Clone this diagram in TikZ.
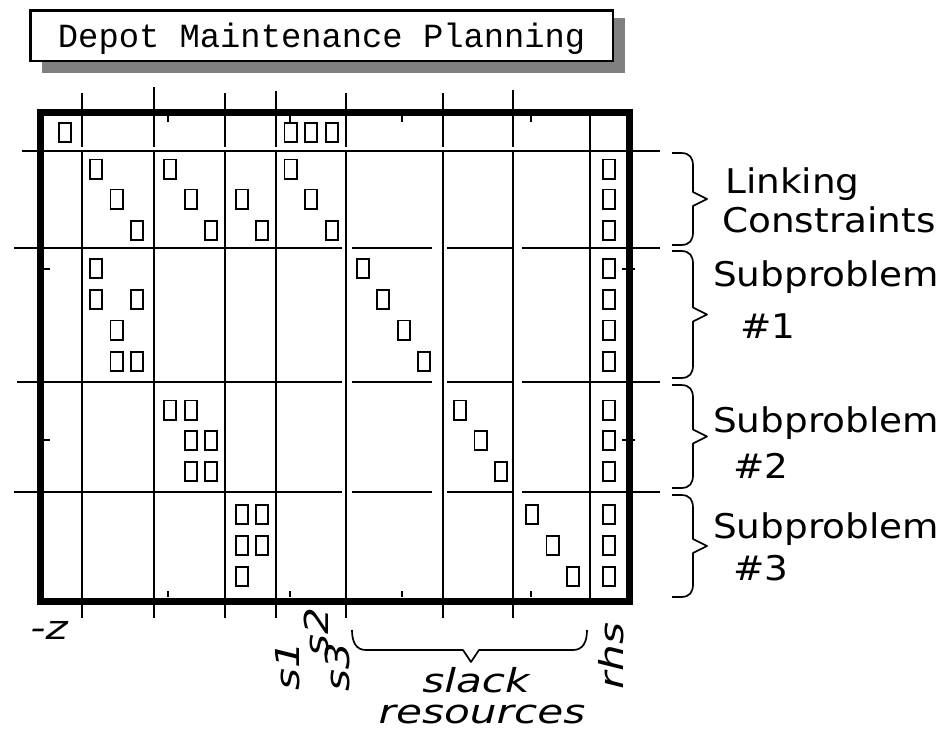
\documentclass[tikz,border=0pt]{standalone}
\usepackage{fontspec}
\newfontfamily\titlefont{Liberation Mono}
\newfontfamily\labelfont{DejaVu Sans}

% right-hand curly brace: #1 = top end, #2 = bottom end
\newcommand\sidecurly[2]{%
  \draw[curlybrace] (672,#1) -- (681,#1)
    .. controls (690,#1) and (693,{#1+5}) .. (693,{#1+13})
    -- (693,{(#1+#2)/2-7}) -- (707,{(#1+#2)/2}) -- (693,{(#1+#2)/2+7})
    -- (693,{#2-13})
    .. controls (693,{#2-5}) and (690,#2) .. (681,#2) -- (672,#2);}

\begin{document}
\begin{tikzpicture}[x=1pt,y=-1pt,
  framebox/.style={line width=7pt},
  gridline/.style={line width=2.2pt},
  cellbox/.style={draw, line width=1.7pt, minimum width=12.3pt, minimum height=19.3pt, inner sep=0pt},
  curlybrace/.style={line width=1.7pt, line join=round},
  sidelabel/.style={font=\labelfont\fontsize{34}{40}\selectfont, xscale=1.1, anchor=base west, inner sep=0pt},
  hlabel/.style={font=\labelfont\itshape\fontsize{33}{40}\selectfont, xscale=1.28, inner sep=0pt},
  vlabel/.style={font=\labelfont\itshape\fontsize{33}{40}\selectfont, rotate=90, xscale=1.28, inner sep=0pt},
]
\useasboundingbox (0,0) rectangle (950,732);

% title with drop shadow
\fill[black!50] (42,18) rectangle (625,73);
\node[draw, line width=2.3pt, fill=white, minimum width=582.3pt, minimum height=50.8pt,
      inner sep=0pt, text height=24pt, text depth=0pt,
      font=\titlefont\fontsize{33.8}{40}\selectfont] (title) at (321.65,35.9) {Depot Maintenance Planning};

% column rules with their ticks above and below the frame
\foreach \x/\t in {82/93,154/87,225/93,276/91,346/93,443/93,513/90} {
  \draw[gridline] (\x,\t) -- (\x,147);
  \draw[gridline] (\x,151) -- (\x,618);
}
\draw[gridline] (590,112) -- (590,601);

% row rules
\draw[gridline] (22,151) -- (660,151);
\foreach \y/\l in {248/14,382/17,492/14} {
  \draw[gridline] (\l,\y) -- (342,\y) (352,\y) -- (432,\y) (447,\y) -- (512,\y) (522,\y) -- (660,\y);
}

% small ticks along the inside of the frame
\foreach \x in {168,290,402,531} {
  \draw[gridline] (\x,116) -- (\x,122);
  \draw[gridline] (\x,591) -- (\x,597);
}
\foreach \y in {269,440} {
  \draw[gridline] (44,\y) -- (50,\y);
  \draw[gridline] (622,\y) -- (635,\y);
}

% outer frame
\draw[framebox] (40.5,112.7) rectangle (629.5,601);

% nonzero entries
\foreach \x/\y [count=\i] in {
  65/132.5, 290.5/132.5, 311/132.5, 332/132.5,
  96/169, 116.5/199, 137/230.5,
  170/169, 191/199, 211/230.5,
  242/199, 262/230.5,
  290.5/169, 311/199, 332/230.5,
  609/169, 609/199, 609/230.5,
  96/268.5, 96/299.5, 137/299.5, 116.5/330, 116.5/361.5, 137/361.5,
  363/268.5, 383/299.5, 404/330, 424/361.5,
  609/268.5, 609/299.5, 609/330, 609/361.5,
  170/410, 191/410, 191/440.5, 211/440.5, 191/471.5, 211/471.5,
  460/410, 480.5/440.5, 501/471.5,
  609/410, 609/440.5, 609/471.5,
  242/514.5, 262/514.5, 242/545.5, 262/545.5, 242/576.5,
  532/514.5, 552.5/545.5, 573/576.5,
  609/514.5, 609/545.5, 609/576.5}
  \node[cellbox] (cell\i) at (\x,\y) {};

% braces on the right
\sidecurly{153}{245}
\sidecurly{251}{378}
\sidecurly{385}{488}
\sidecurly{495}{597}

\node[sidelabel] (link1) at (725,193) {Linking};
\node[sidelabel] (link2) at (722,232) {Constraints};
\node[sidelabel] (sub1) at (713,286) {Subproblem};
\node[sidelabel] (num1) at (740,338) {\#1};
\node[sidelabel] (sub2) at (713,432) {Subproblem};
\node[sidelabel] (num2) at (733,478) {\#2};
\node[sidelabel] (sub3) at (713,538) {Subproblem};
\node[sidelabel] (num3) at (733,580) {\#3};

% brace under the slack columns
\draw[curlybrace] (352,630) .. controls (352,642) and (356,650) .. (366,650)
  -- (463,650) -- (471,662) -- (479,650) -- (573,650)
  .. controls (583,650) and (587,642) .. (587,630);

% column labels
\node[hlabel, anchor=base west] (negz) at (30,639) {-z};
\node[vlabel] (s1) at (288,666) {s1};
\node[vlabel] (s2) at (316,632) {s2};
\node[vlabel] (s3) at (337,667) {s3};
\node[vlabel] (rhs) at (611,656) {rhs};
\node[hlabel, anchor=base] (slack) at (476,692) {slack};
\node[hlabel, anchor=base] (res) at (482,723) {resources};
\end{tikzpicture}
\end{document}
